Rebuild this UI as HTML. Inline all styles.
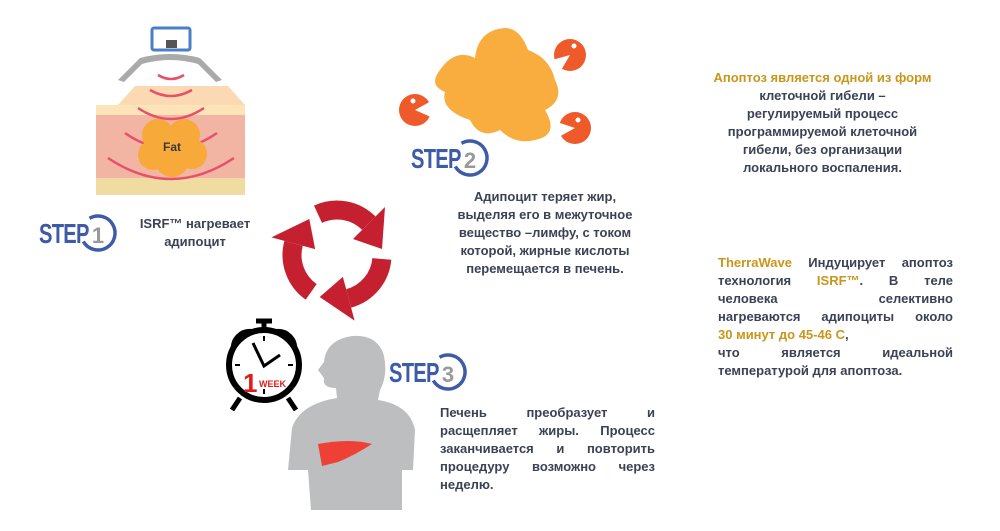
<!DOCTYPE html>
<html><head><meta charset="utf-8"><style>
body{margin:0;width:1000px;height:531px;background:#fff;position:relative;overflow:hidden;font-family:"Liberation Sans",Arial,sans-serif;font-weight:bold;color:#3b4254}
.t{position:absolute;font-size:13px;line-height:18px}
.j{text-align:justify;text-align-last:justify}
.o{color:#c8961a}
svg{position:absolute;left:0;top:0}
</style></head><body>
<svg width="1000" height="531" viewBox="0 0 1000 531">
<defs>
<g id="arr"><path d="M-19,-40.8 A45,45 0 0 1 31.8,-31.8" fill="none" stroke="#c4202f" stroke-width="19"/>
<polygon points="16,-16 48,-48 45,-6" fill="#c4202f"/></g>
<g id="logo"><path d="M50.5,-24.7 A17,17 0 1 1 44.3,-1.5" fill="none" stroke="#3e5ba8" stroke-width="3.5"/><text x="0" y="0" font-size="28" fill="#3e5ba8" transform="scale(0.72,1)" letter-spacing="-1">STEP</text></g>
</defs>
<!-- step1 picture -->
<rect x="152" y="28" width="38" height="22" fill="none" stroke="#4a7fc8" stroke-width="3" rx="2"/>
<rect x="166" y="40" width="11" height="8" fill="#555"/>
<path d="M118,80 L140,58 Q170,50 200,58 L222,80 L216,82 L198,64 Q170,56 142,64 L124,82 Z" fill="#aaa"/>
<polygon points="118,105 135,86 228,86 245,105" fill="#fbd9b2"/>
<rect x="96" y="105" width="149" height="10" fill="#fde3b8"/>
<rect x="96" y="115" width="149" height="63" fill="#f2b5a4"/>
<rect x="96" y="178" width="149" height="17" fill="#f0dca0"/>
<path d="M158,75 Q171,83 184,75 M150,90 Q171,102 192,90 M138,108 Q171,130 204,108 M125,133 Q171,165 217,133 M108,158 Q171,200 234,158" fill="none" stroke="#e8506a" stroke-width="2.5"/>
<g fill="#f7a93a"><circle cx="158" cy="135" r="16"/><circle cx="184" cy="135" r="16"/><circle cx="172" cy="160" r="17"/><circle cx="153" cy="155" r="15"/><circle cx="192" cy="154" r="15"/><circle cx="172" cy="145" r="19"/></g>
<text x="172" y="151" font-family="Liberation Sans" font-size="12" font-weight="bold" fill="#3a3a3a" text-anchor="middle">Fat</text>
<!-- step2 blob -->
<path d="M440,70 Q455,48 475,58 Q478,30 505,28 Q520,28 528,50 Q550,58 555,80 Q565,100 545,110 Q560,135 535,140 Q515,145 500,130 Q480,140 470,120 Q440,110 445,92 Q428,85 440,70 Z" fill="#f9ad3e"/>
<g fill="#ef5a2a"><circle cx="415" cy="110" r="16"/><circle cx="570" cy="55" r="16"/><circle cx="575" cy="128" r="16"/></g>
<g fill="#fff">
<polygon points="415,110 433,100 433,118"/>
<polygon points="570,55 552,60 560,72"/>
<polygon points="575,128 557,122 557,138"/>
<circle cx="413" cy="101" r="2.5"/><circle cx="574" cy="46" r="2.5"/><circle cx="578" cy="120" r="2.5"/></g>
<!-- cycle -->
<g transform="translate(337,255)"><use href="#arr"/><use href="#arr" transform="rotate(120)"/><use href="#arr" transform="rotate(240)"/></g>
<!-- body -->
<path d="M352,336 Q378,334 384,356 Q388,375 380,390 L378,400 Q410,405 415,430 L413,470 L402,470 L402,510 L311,510 L308,470 L288,470 L292,428 Q300,404 337,398 L336,388 Q322,388 324,378 L318,370 L324,362 Q326,340 352,336 Z" fill="#bdbec0"/>
<path d="M318,444 Q350,438 372,444 Q355,455 338,462 L322,466 Z" fill="#ee4034"/>
<!-- clock -->
<g stroke="#000" fill="none">
<path d="M232,350 A18,18 0 0 1 252,330 Z" fill="#000" stroke-width="2"/>
<path d="M296,350 A18,18 0 0 0 276,330 Z" fill="#000" stroke-width="2"/>
<circle cx="264" cy="365" r="35" stroke-width="6" fill="#fff"/>
<path d="M240,398 L232,410 M288,398 L296,410 M264,328 L264,322 M256,321 L272,321" stroke-width="5"/>
<path d="M253,343 L264,366 L280,355" stroke-width="3"/>
<path d="M264,336 V341 M264,389 V394 M235,365 H240 M288,365 H293" stroke-width="2"/>
</g>
<text x="243" y="392" font-family="Liberation Sans" font-size="26" font-weight="bold" fill="#e01b1b">1</text>
<text x="259" y="387" font-family="Liberation Sans" font-size="9" font-weight="bold" fill="#e01b1b">WEEK</text>
<!-- STEP logos -->
<g font-family="Liberation Sans" font-weight="bold">
<g transform="translate(39,243)"><use href="#logo"/><text x="59" y="0" font-size="22" fill="#999" text-anchor="middle">1</text></g>
<g transform="translate(411,168)"><use href="#logo"/><text x="59" y="0" font-size="22" fill="#999" text-anchor="middle">2</text></g>
<g transform="translate(389,382)"><use href="#logo"/><text x="59" y="0" font-size="22" fill="#999" text-anchor="middle">3</text></g>
</g>
</svg>
<div class="t" style="left:120px;top:215px;width:150px;text-align:center">ISRF™ нагревает<br>адипоцит</div>
<div class="t" style="left:440px;top:188px;width:210px;text-align:center">Адипоцит теряет жир,<br>выделяя его в межуточное<br>вещество –лимфу, с током<br>которой, жирные кислоты<br>перемещается в печень.</div>
<div class="t j" style="left:440px;top:404px;width:215px">Печень преобразует и</div>
<div class="t j" style="left:440px;top:422px;width:215px">расщепляет жиры. Процесс</div>
<div class="t j" style="left:440px;top:440px;width:215px">заканчивается и повторить</div>
<div class="t j" style="left:440px;top:458px;width:215px">процедуру возможно через</div>
<div class="t" style="left:440px;top:476px;width:215px">неделю.</div>
<div class="t" style="left:690px;top:69px;width:265px;text-align:center"><span class="o">Апоптоз является одной из форм</span><br>клеточной гибели –<br>регулируемый процесс<br>программируемой клеточной<br>гибели, без организации<br>локального воспаления.</div>
<div class="t j" style="left:718px;top:254px;width:235px"><span class="o">TherraWave</span> Индуцирует апоптоз</div>
<div class="t j" style="left:718px;top:272px;width:235px">технология <span class="o">ISRF™</span>. В теле</div>
<div class="t j" style="left:718px;top:290px;width:235px">человека селективно</div>
<div class="t j" style="left:718px;top:308px;width:235px">нагреваются адипоциты около</div>
<div class="t" style="left:718px;top:326px;width:235px"><span class="o">30 минут до 45-46 С</span>,</div>
<div class="t j" style="left:718px;top:344px;width:235px">что является идеальной</div>
<div class="t" style="left:718px;top:362px;width:235px">температурой для апоптоза.</div>
</body></html>
